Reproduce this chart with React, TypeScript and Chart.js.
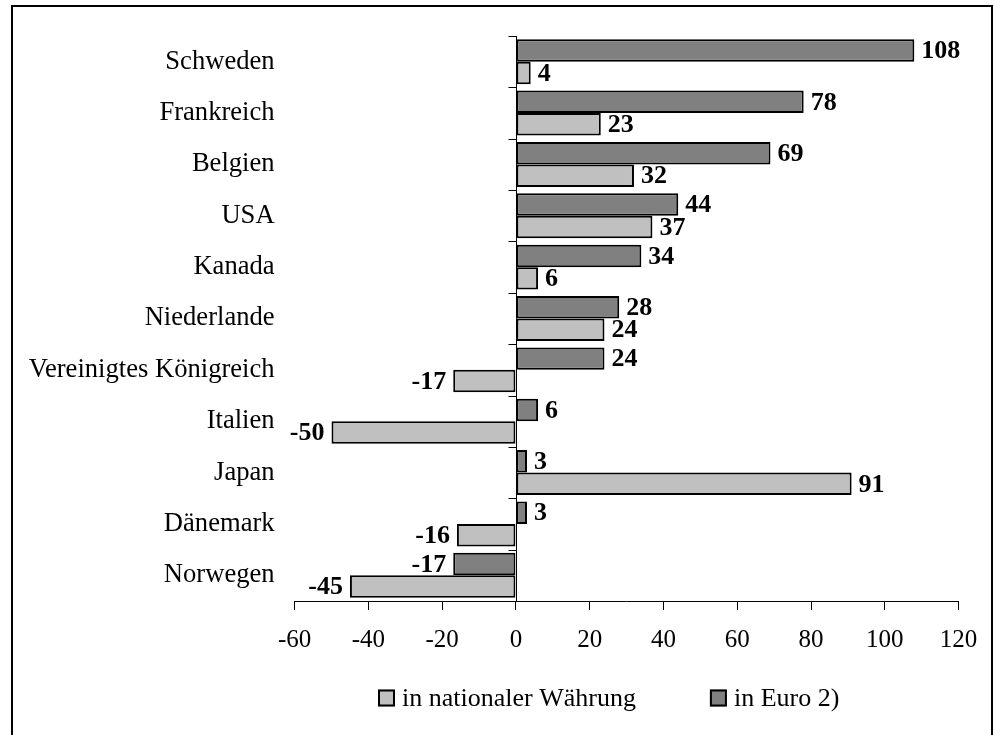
import React, { useEffect, useRef } from "react";
import { Chart, registerables } from "chart.js";

Chart.register(...registerables);

const categories = [
  "Schweden",
  "Frankreich",
  "Belgien",
  "USA",
  "Kanada",
  "Niederlande",
  "Vereinigtes Königreich",
  "Italien",
  "Japan",
  "Dänemark",
  "Norwegen",
];
const euroValues = [108, 78, 69, 44, 34, 28, 24, 6, 3, 3, -17];
const nationalValues = [4, 23, 32, 37, 6, 24, -17, -50, 91, -16, -45];
const seriesNames = ["in nationaler Währung", "in Euro 2)"];
const xMin = -60;
const xMax = 120;
const xStep = 20;

const SERIF = '"Liberation Serif", "Times New Roman", Times, serif';
const LIGHT = "#C0C0C0";
const DARK = "#808080";

const zeroAxisPlugin = {
  id: "zeroAxis",
  afterDatasetsDraw(chart: any) {
    const { ctx, chartArea, scales } = chart;
    const xs = scales.x;
    const ys = scales.y;
    const x0 = Math.round(xs.getPixelForValue(0)) + 0.5;
    ctx.save();
    ctx.strokeStyle = "#000";
    ctx.lineWidth = 1;
    ctx.beginPath();
    ctx.moveTo(x0, chartArea.top);
    ctx.lineTo(x0, chartArea.bottom);
    const n = ys.ticks.length;
    for (let i = 0; i < n; i++) {
      const c = ys.getPixelForValue(i);
      const half = (chartArea.bottom - chartArea.top) / n / 2;
      const yy = Math.round(c - half) + 0.5;
      ctx.moveTo(x0 - 8, yy);
      ctx.lineTo(x0, yy);
    }
    ctx.stroke();
    ctx.restore();
  },
};

const valueLabelPlugin = {
  id: "valueLabels",
  afterDatasetsDraw(chart: any) {
    const { ctx } = chart;
    ctx.save();
    ctx.font = `bold 26px ${SERIF}`;
    ctx.fillStyle = "#000";
    ctx.textBaseline = "middle";
    chart.data.datasets.forEach((ds: any, di: number) => {
      const meta = chart.getDatasetMeta(di);
      meta.data.forEach((el: any, i: number) => {
        const v = ds.data[i];
        const { x, y } = el.getProps(["x", "y"], true);
        if (v >= 0) {
          ctx.textAlign = "left";
          ctx.fillText(String(v), x + 7, y + 1);
        } else {
          ctx.textAlign = "right";
          ctx.fillText(String(v), x - 7, y + 1);
        }
      });
    });
    ctx.restore();
  },
};

const legendPlugin = {
  id: "customLegend",
  afterDraw(chart: any) {
    const { ctx } = chart;
    ctx.save();
    ctx.font = `26px ${SERIF}`;
    let x = 365;
    const cy = 691;
    const items = [...chart.data.datasets].reverse();
    items.forEach((ds: any) => {
      ctx.fillStyle = ds.backgroundColor;
      ctx.fillRect(x, cy - 8.5, 17, 17);
      ctx.strokeStyle = "#000";
      ctx.lineWidth = 2;
      ctx.strokeRect(x + 1, cy - 7.5, 15, 15);
      ctx.fillStyle = "#000";
      ctx.textAlign = "left";
      ctx.textBaseline = "middle";
      ctx.fillText(ds.label, x + 24, cy + 1);
      x += 24 + ctx.measureText(ds.label).width + 74;
    });
    ctx.restore();
  },
};

export default function App() {
  const ref = useRef<HTMLCanvasElement | null>(null);

  useEffect(() => {
    if (!ref.current) return;
    const chart = new Chart(ref.current, {
      type: "bar",
      data: {
        labels: categories,
        datasets: [
          {
            label: seriesNames[1],
            data: euroValues,
            backgroundColor: DARK,
            borderColor: "#000",
            borderWidth: 2,
            borderSkipped: false,
            categoryPercentage: 0.875,
            barPercentage: 1,
          },
          {
            label: seriesNames[0],
            data: nationalValues,
            backgroundColor: LIGHT,
            borderColor: "#000",
            borderWidth: 2,
            borderSkipped: false,
            categoryPercentage: 0.875,
            barPercentage: 1,
          },
        ],
      },
      options: {
        indexAxis: "y",
        animation: false,
        responsive: false,
        devicePixelRatio: 1,
        layout: { padding: { left: 0, top: 29, right: 32.4, bottom: 74 } },
        plugins: {
          legend: { display: false },
          tooltip: { enabled: false },
          title: { display: false },
        },
        scales: {
          x: {
            type: "linear",
            min: xMin,
            max: xMax,
            ticks: {
              stepSize: xStep,
              color: "#000",
              font: { family: SERIF, size: 25 },
              padding: 15,
              maxRotation: 0,
            },
            grid: {
              display: true,
              drawOnChartArea: false,
              drawTicks: true,
              tickLength: 9,
              color: "#000",
              lineWidth: 1,
            },
            border: { display: true, color: "#000", width: 1 },
            afterFit(scale: any) {
              scale.height = 60;
              scale.paddingLeft = 0;
              scale.paddingRight = 0;
            },
          },
          y: {
            type: "category",
            offset: true,
            ticks: {
              color: "#000",
              font: { family: SERIF, size: 26.6 },
              padding: 20,
              autoSkip: false,
            },
            grid: { display: false, drawTicks: false },
            border: { display: false },
            afterFit(scale: any) {
              scale.width = 281.6;
              scale.paddingTop = 0;
              scale.paddingBottom = 0;
            },
          },
        },
      },
      plugins: [zeroAxisPlugin, valueLabelPlugin, legendPlugin],
    } as any);
    return () => chart.destroy();
  }, []);

  return (
    <div
      style={{
        position: "absolute",
        left: 11,
        top: 5,
        width: 982,
        height: 730,
        boxSizing: "border-box",
        borderTop: "2px solid #000",
        borderLeft: "2px solid #000",
        borderRight: "2px solid #000",
        background: "#fff",
      }}
    >
      <canvas ref={ref} width={978} height={728} style={{ display: "block", width: 978, height: 728 }} />
    </div>
  );
}
